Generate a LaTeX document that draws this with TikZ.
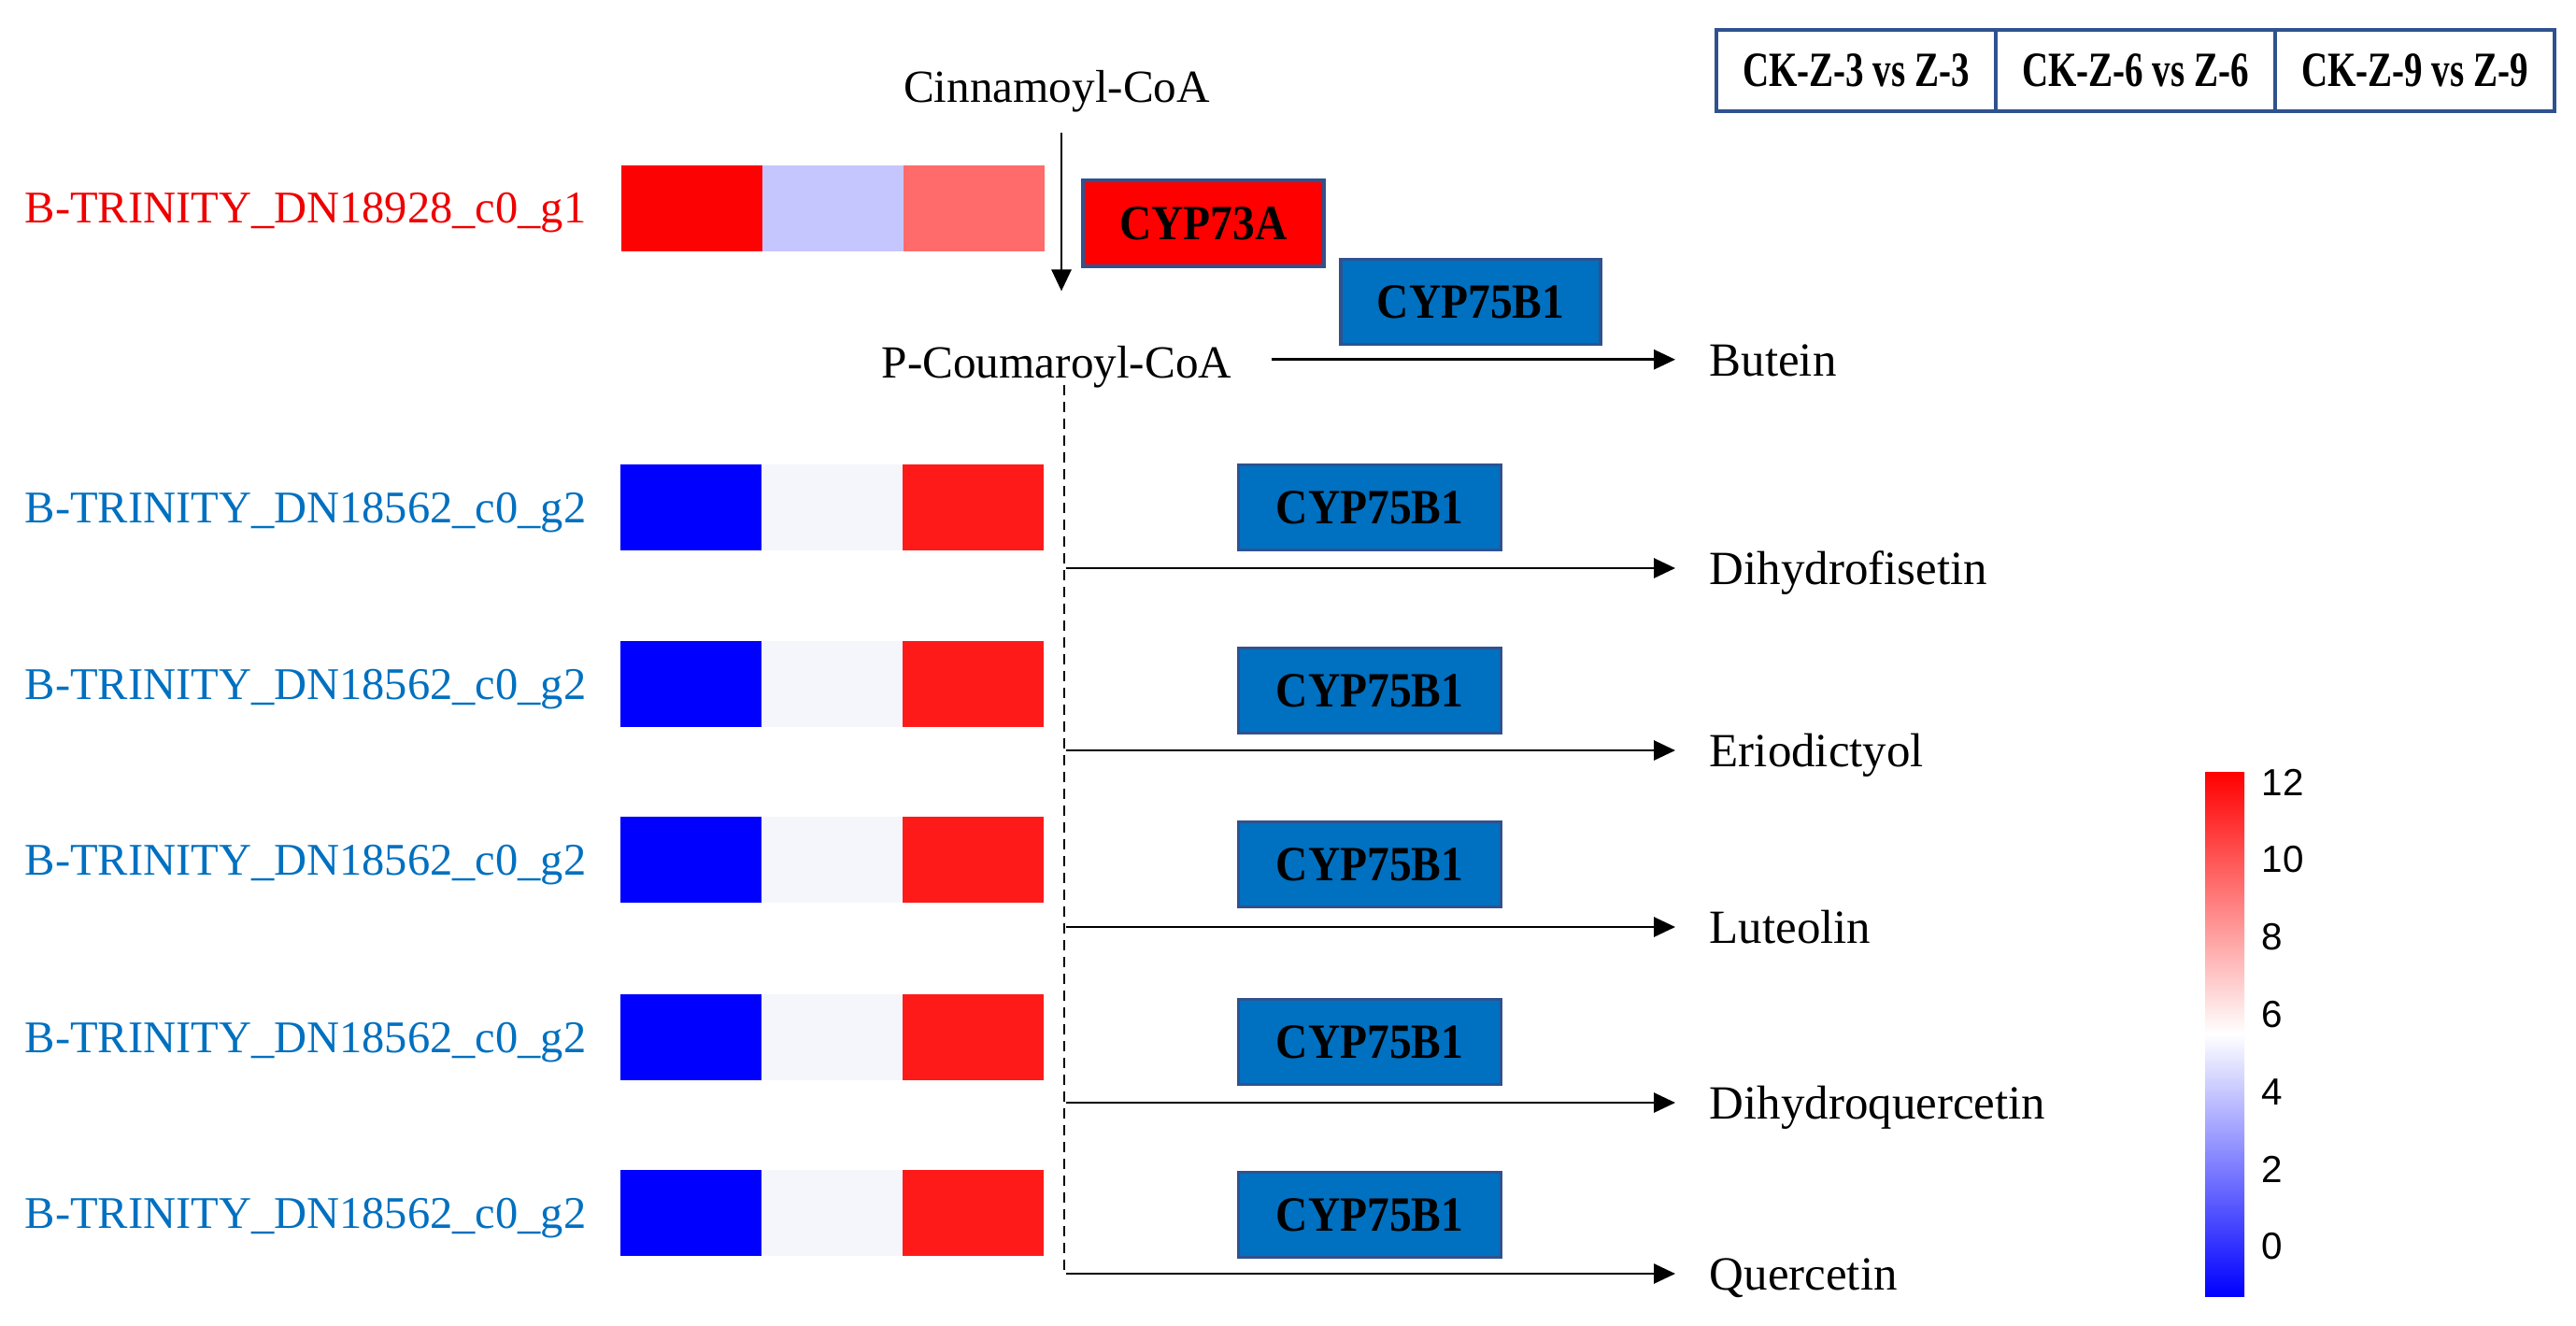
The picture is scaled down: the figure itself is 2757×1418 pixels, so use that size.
\documentclass[tikz,border=0pt]{standalone}
\usepackage{fontspec}
\setmainfont{Liberation Serif}
\newfontfamily\barfont{Liberation Sans}
\usepackage{graphicx}
\usetikzlibrary{positioning,arrows.meta}

\definecolor{genered}{RGB}{238,0,0}
\definecolor{geneblue}{RGB}{0,112,192}
\definecolor{enzblue}{RGB}{0,112,192}
\definecolor{edgeblue}{RGB}{47,82,143}
\definecolor{hotred}{RGB}{253,2,2}
\definecolor{lavender}{RGB}{198,198,255}
\definecolor{salmon}{RGB}{255,107,107}
\definecolor{deepblue}{RGB}{0,0,255}
\definecolor{paleblue}{RGB}{245,246,252}
\definecolor{brightred}{RGB}{255,26,26}

\newcommand{\squeeze}[2][0.9]{\scalebox{#1}[1]{#2}}

\tikzset{
  gene/.style={anchor=base west, inner sep=0pt, font=\fontsize{13.8}{16}\selectfont},
  cell/.style={minimum width=1.51cm, minimum height=0.92cm, inner sep=0pt, outer sep=0pt},
  enz/.style={draw=edgeblue, line width=0.9pt, fill=enzblue, inner sep=0pt,
    minimum width=2.81cm, minimum height=0.91cm, font=\bfseries\fontsize{15}{17}\selectfont},
  cpd/.style={anchor=base, font=\fontsize{14}{16}\selectfont},
  met/.style={anchor=base west, inner xsep=3.6mm, font=\fontsize{14.5}{17}\selectfont},
  flow/.style={-{Triangle[length=2.3mm,width=2.1mm]}, line width=0.8pt},
  dashline/.style={line width=0.6pt, dash pattern=on 1.1mm off 0.7mm},
  hdr/.style={draw=edgeblue, line width=1pt, outer sep=0pt, inner sep=0pt,
    minimum width=2.99cm, minimum height=0.87cm, font=\bfseries\fontsize{15}{17}\selectfont},
  tick/.style={anchor=west, inner sep=0pt, font=\barfont\fontsize{11.5}{13}\selectfont}
}

\begin{document}
\begin{tikzpicture}[x=0.1mm,y=-0.1mm]
  \fill[white] (0,0) rectangle (2757,1418);
  \useasboundingbox (0,0) rectangle (2757,1418);
  %
  \node[cpd] (cinn) at (1131,109) {Cinnamoyl-CoA};
  \node[cpd] (coum) at (1131,404) {P-Coumaroyl-CoA};
  \node[gene, text=genered] (g1) at (26,238) {B-TRINITY\_DN18928\_c0\_g1};
  \foreach \c [count=\i] in {hotred,lavender,salmon}
    \node[cell, fill=\c] (h1\i) at ({665+151*(\i-0.5)},222.5) {};
  \node[enz, fill=red, minimum width=2.58cm, minimum height=0.92cm] (e73) at (1288,239) {\squeeze{CYP73A}};
  \node[enz, minimum width=2.78cm] (e75) at (1574,323) {\squeeze{CYP75B1}};
  \node[met] (butein) at (1793,402) {Butein};
  \draw[flow] ([xshift=0.5mm,yshift=-1mm]cinn.south) -- ([xshift=0.5mm,yshift=4.6mm]coum.north);
  \coordinate (c0) at ([xshift=3mm,yshift=0.75mm]coum.east);
  \draw[flow] (c0) -- (c0 -| butein.west);
  %
  \foreach \r/\y/\by/\ay/\m in {2/543/543/608/Dihydrofisetin, 3/732/739/803/Eriodictyol,
      4/920/925/992/Luteolin, 5/1110/1115/1180/Dihydroquercetin, 6/1298/1300/1363/Quercetin} {
    \node[gene, text=geneblue] (g\r) at (26,\y+16) {B-TRINITY\_DN18562\_c0\_g2};
    \foreach \c [count=\i] in {deepblue,paleblue,brightred}
      \node[cell, fill=\c] (h\r\i) at ({664+151*(\i-0.5)},\y) {};
    \node[enz] (e\r) at (1466,\by) {\squeeze{CYP75B1}};
    \coordinate (d\r) at (1141,\ay);
    \node[met] (m\r) at (1793,\ay+17) {\m};
    \draw[flow] (d\r) -- (d\r -| m\r.west);
  }
  \coordinate (dtop) at ([xshift=0.8mm,yshift=1.5mm]coum.south);
  \draw[dashline] (dtop) -- (dtop |- d6);
  %
  \node[hdr] (t1) at (1986.5,75.5) {\squeeze[0.74]{CK-Z-3 vs Z-3}};
  \node[hdr, right=0pt of t1] (t2) {\squeeze[0.74]{CK-Z-6 vs Z-6}};
  \node[hdr, right=0pt of t2] (t3) {\squeeze[0.74]{CK-Z-9 vs Z-9}};
  %
  \shade[top color=red, bottom color=blue, middle color=white] (2360,826) rectangle (2402,1387);
  \foreach \v in {0,2,...,12}
    \node[tick] (cb\v) at (2420,{837+(12-\v)*41.4}) {\v};
\end{tikzpicture}
\end{document}
